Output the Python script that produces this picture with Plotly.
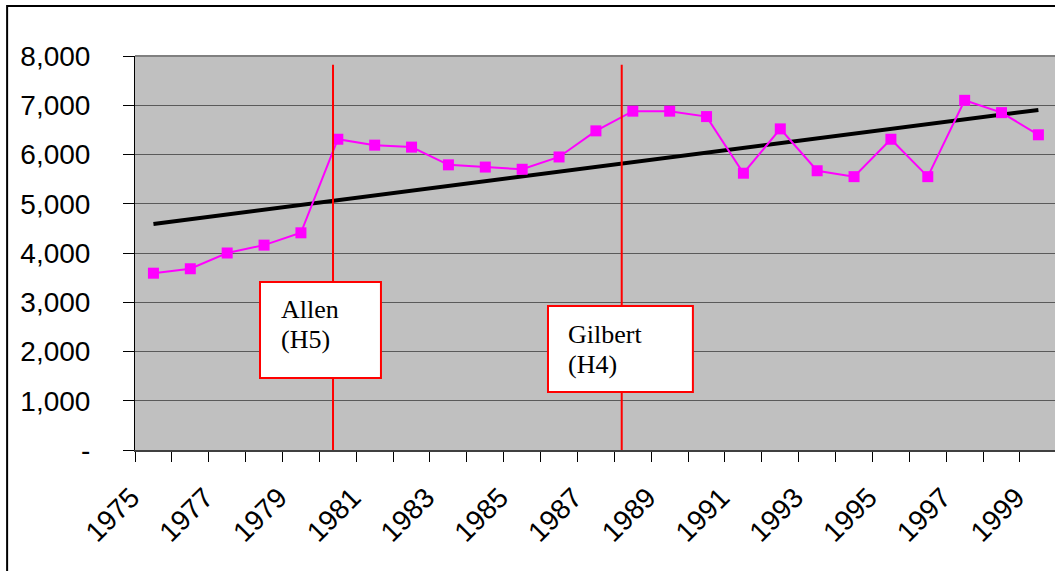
import plotly.graph_objects as go

# ---- data ----
years = list(range(1975, 2000))
values = [3590, 3680, 4000, 4160, 4410, 6310, 6190, 6150, 5790, 5745,
          5700, 5950, 6480, 6880, 6880, 6770, 5620, 6520, 5670, 5550,
          6310, 5550, 7100, 6850, 6400]
trend_years = [1975, 1999]
trend_values = [4590, 6905]

y_ticks = [0, 1000, 2000, 3000, 4000, 5000, 6000, 7000, 8000]
y_ticktext = ["-", "1,000", "2,000", "3,000", "4,000", "5,000", "6,000", "7,000", "8,000"]
x_label_years = years[::2]

# hurricane callouts: text lines, line position, box extents (x0, x1, y0, y1), text x and line y centres
events = [
    dict(lines=["Allen", "(H5)"], line_x=1979.87, line_top=7820,
         box=(1977.89, 1981.17, 1462, 3411), text_x=1978.4, text_y=[2843, 2234]),
    dict(lines=["Gilbert", "(H4)"], line_x=1987.70, line_top=7820,
         box=(1985.70, 1989.63, 1178, 2924), text_x=1986.2, text_y=[2355, 1746]),
]

fig = go.Figure()

fig.add_trace(go.Scatter(
    x=trend_years, y=trend_values, mode="lines",
    line=dict(color="black", width=4), hoverinfo="skip", showlegend=False))

fig.add_trace(go.Scatter(
    x=years, y=values, mode="lines+markers",
    line=dict(color="#FF00FF", width=2),
    marker=dict(symbol="square", size=11, color="#FF00FF"),
    showlegend=False))

shapes = []
annotations = []
for ev in events:
    shapes.append(dict(type="line", xref="x", yref="y", x0=ev["line_x"], x1=ev["line_x"],
                       y0=0, y1=ev["line_top"], line=dict(color="#FF0000", width=2), layer="above"))
    bx0, bx1, by0, by1 = ev["box"]
    shapes.append(dict(type="rect", xref="x", yref="y", x0=bx0, x1=bx1, y0=by0, y1=by1,
                       fillcolor="white", line=dict(color="#FF0000", width=2), layer="above"))
    for txt, ty in zip(ev["lines"], ev["text_y"]):
        annotations.append(dict(x=ev["text_x"], y=ty, xref="x", yref="y", text=txt, showarrow=False,
                                xanchor="left", yanchor="middle", align="left",
                                font=dict(family="Liberation Serif", size=26, color="black")))

# plot-area top edge
shapes.append(dict(type="line", xref="paper", yref="paper", x0=0, x1=1, y0=1, y1=1,
                   line=dict(color="#808080", width=2), layer="above"))
# outer chart border
shapes.append(dict(type="rect", xref="paper", yref="paper", x0=-0.139, x1=1.2, y0=-0.5, y1=1.127,
                   line=dict(color="black", width=2), fillcolor="rgba(0,0,0,0)", layer="above"))

fig.update_layout(
    width=1055, height=571,
    margin=dict(l=135, r=0, t=56, b=121),
    paper_bgcolor="white", plot_bgcolor="#C0C0C0",
    shapes=shapes, annotations=annotations,
    font=dict(family="Liberation Sans", size=28, color="black"),
)

fig.update_xaxes(
    range=[1974.5, 1999.45],
    tickmode="array", tickvals=x_label_years,
    ticktext=[str(y) for y in x_label_years],
    tickangle=-45, ticks="", showgrid=False, ticklabelshift=-22,
    minor=dict(tickmode="array", tickvals=[y - 0.5 for y in years] + [years[-1] + 0.5],
               ticks="outside", ticklen=10, tickcolor="black", tickwidth=1, showgrid=False),
    showline=True, linecolor="#404040", linewidth=2,
    tickfont=dict(family="Liberation Sans", size=28, color="black"),
    ticklabelstandoff=18,
)

fig.update_yaxes(
    range=[0, 8000],
    tickmode="array", tickvals=y_ticks, ticktext=y_ticktext,
    ticks="outside", ticklen=11, tickcolor="black", tickwidth=1,
    showgrid=True, gridcolor="#5a5a5a", gridwidth=1, zeroline=False,
    showline=True, linecolor="black", linewidth=1,
    tickfont=dict(family="Liberation Sans", size=28, color="black"),
    ticklabelstandoff=27,
)

fig.write_html("out.html", config={"displayModeBar": False},
               post_script="document.body.style.margin='0';document.body.style.overflow='hidden';")
